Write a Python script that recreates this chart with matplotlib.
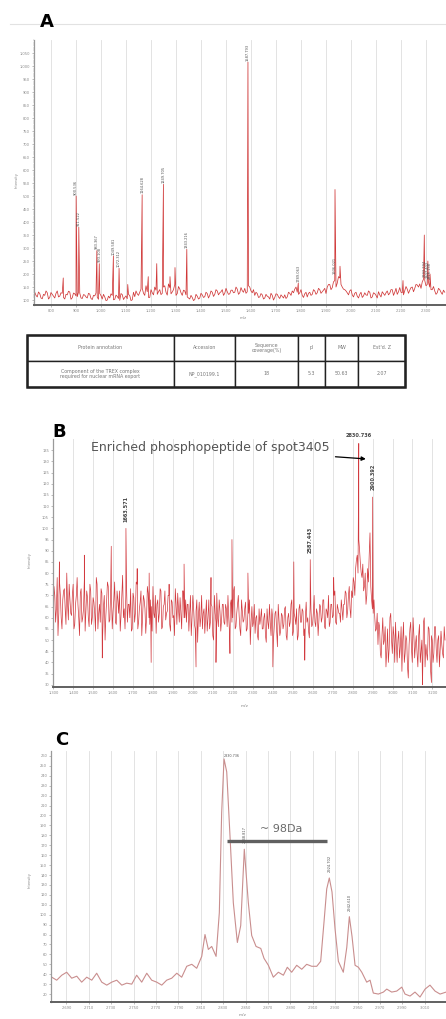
import numpy as np
import matplotlib
matplotlib.use("Agg")
import matplotlib.pyplot as plt
from matplotlib.ticker import FuncFormatter, MultipleLocator
from matplotlib.patches import Rectangle
from matplotlib.lines import Line2D

# ---------------- data ----------------

# panel A: full MS spectrum (baseline sampled every 10 m/z from 735,
# second set of samples in between, from 740)
A_base_start = 735
A_base_step = 10
A_base = [130, 112, 125, 105, 118, 128, 110, 122, 108, 135,
          115, 126, 104, 120, 131, 109, 124, 113, 127, 106,
          119, 108, 123, 102, 116, 111, 125, 104, 112, 100,
          108, 118, 103, 114, 99, 121, 110, 105, 117, 101,
          113, 124, 130, 145, 118, 132, 110, 128, 150, 122,
          140, 126, 155, 119, 148, 131, 160, 125, 143, 118,
          135, 112, 104, 110, 102, 115, 108, 120, 113, 125,
          118, 130, 122, 135, 128, 140, 126, 132, 124, 138,
          130, 142, 128, 136, 145, 132, 150, 128, 118, 125,
          112, 120, 108, 115, 104, 118, 110, 122, 106, 114,
          120, 112, 126, 135, 142, 130, 128, 118, 124, 112,
          130, 122, 135, 128, 140, 132, 145, 150, 160, 148,
          175, 165, 185, 150, 140, 128, 135, 120, 126, 115,
          122, 110, 128, 118, 130, 112, 125, 108, 120, 132,
          118, 135, 126, 140, 130, 122, 148, 128, 136, 142,
          138, 150, 145, 158, 162, 170, 175, 160, 150, 140,
          135, 128, 140, 122, 130]
A_mid_start = 740
A_mid = [118, 131, 108, 122, 135, 104, 129, 115, 126, 112,
         128, 110, 122, 134, 103, 127, 116, 130, 108, 121,
         112, 126, 106, 118, 127, 103, 117, 122, 98, 115,
         124, 101, 119, 106, 125, 102, 116, 122, 98, 130,
         135, 118, 142, 126, 155, 110, 140, 120, 138, 132,
         121, 150, 130, 162, 124, 140, 118, 152, 128, 138,
         120, 108, 118, 98, 122, 104, 126, 110, 130, 108,
         135, 114, 140, 120, 132, 118, 145, 122, 138, 128,
         150, 122, 148, 130, 126, 155, 135, 140, 130, 110,
         125, 104, 122, 112, 126, 100, 124, 112, 120, 108,
         106, 130, 118, 128, 150, 122, 140, 110, 130, 126,
         118, 140, 122, 145, 126, 138, 125, 160, 140, 170,
         150, 190, 160, 142, 135, 120, 140, 112, 130, 108,
         130, 116, 120, 135, 108, 128, 118, 132, 112, 125,
         128, 120, 140, 118, 145, 132, 130, 120, 152, 126,
         148, 132, 160, 150, 145, 180, 155, 168, 140, 152,
         122, 145, 130, 138]
A_peak_mz = [849.0, 900.5, 911.2, 983.4, 993.1, 1049.6, 1072.3, 1107.0, 1164.6,
             1189.0, 1223.0, 1249.7, 1276.0, 1296.0, 1343.2, 1587.8, 1789.1,
             1936.0, 1956.0, 2208.0, 2293.2, 2307.4, 2316.1]
A_peak_int = [185, 500, 380, 290, 240, 270, 222, 160, 505,
              190, 240, 545, 190, 225, 295, 1015, 165,
              525, 230, 175, 350, 250, 200]
A_label_mz = [900.5, 911.2, 983.4, 993.1, 1049.6, 1072.3, 1164.6, 1249.7,
              1343.2, 1587.8, 1789.1, 1936.0, 2293.2, 2307.4, 2316.1]
A_label_text = ["900.536", "911.522", "983.367", "993.108", "1049.581",
                "1072.312", "1164.628", "1249.705", "1343.216", "1587.793",
                "1789.063", "1936.021", "2293.194", "2307.402", "2316.138"]
A_label_int = [505, 385, 295, 245, 275, 227, 510, 550, 300, 1020, 168,
               200, 190, 185, 180]
A_xticks = list(range(800, 2400, 100))
A_yticks = list(range(100, 1100, 50))

# table under panel A
T_header = ["Protein annotation", "Accession", "Sequence\ncoverage(%)",
            "pI", "MW", "Est'd. Z"]
T_row = ["Component of the TREX complex\nrequired for nuclear mRNA export",
         "NP_010199.1", "18", "5.3", "50.63", "2.07"]
T_colw = [147, 61, 63, 27, 33, 47]

# panel B: enriched phosphopeptide spectrum (baseline every 8 m/z from 1295,
# second set of samples in between, from 1299)
B_base_start = 1295
B_base_step = 8
B_base = [66, 74, 58, 78, 62, 70, 55, 72, 64, 80, 59, 68,
          61, 75, 57, 70, 66, 52, 73, 60, 77, 63, 69, 56,
          72, 60, 67, 54, 75, 62, 58, 71, 65, 50, 68, 74,
          59, 70, 63, 76, 57, 68, 72, 61, 79, 64, 70, 58,
          66, 73, 55, 69, 62, 75, 58, 67, 52, 70, 64, 60,
          71, 57, 65, 74, 60, 53, 68, 62, 72, 56, 66, 59,
          63, 70, 54, 67, 61, 73, 57, 64, 69, 55, 72, 60,
          58, 66, 62, 52, 70, 57, 63, 49, 67, 60, 55, 64,
          61, 54, 68, 58, 65, 50, 62, 71, 56, 63, 59, 66,
          57, 64, 70, 53, 68, 60, 74, 56, 66, 61, 52, 63,
          59, 67, 55, 62, 48, 65, 58, 53, 61, 50, 57, 64,
          55, 62, 49, 58, 66, 52, 60, 56, 63, 47, 59, 54,
          61, 57, 65, 50, 62, 58, 68, 54, 60, 64, 52, 66,
          58, 63, 55, 67, 60, 51, 64, 57, 70, 56, 62, 59,
          65, 60, 68, 55, 63, 70, 58, 66, 61, 72, 57, 64,
          62, 68, 59, 66, 71, 63, 74, 60, 69, 76, 82, 88,
          95, 84, 78, 72, 80, 70, 76, 98, 68, 62, 60, 55,
          48, 56, 42, 60, 50, 38, 55, 46, 62, 44, 52, 58,
          40, 54, 47, 36, 58, 44, 50, 33, 55, 46, 60, 42,
          52, 38, 57, 45, 34, 60, 48, 41, 55, 36, 50, 44,
          56, 40, 52, 46, 48, 42, 50]
B_mid_start = 1299
B_mid = [58, 70, 64, 52, 76, 60, 68, 73, 57, 66, 75, 62,
         70, 55, 66, 78, 60, 71, 58, 64, 54, 72, 60, 75,
         57, 69, 62, 78, 55, 66, 73, 52, 70, 61, 76, 58,
         72, 55, 68, 58, 72, 62, 54, 70, 60, 55, 73, 66,
         60, 54, 71, 58, 76, 55, 64, 72, 60, 68, 53, 74,
         60, 68, 54, 62, 70, 66, 58, 73, 55, 65, 72, 62,
         70, 57, 68, 60, 52, 66, 71, 58, 62, 72, 60, 68,
         66, 54, 70, 60, 64, 55, 68, 61, 56, 70, 62, 53,
         68, 60, 55, 66, 52, 70, 58, 60, 68, 54, 66, 58,
         66, 56, 60, 66, 58, 72, 55, 62, 70, 55, 68, 58,
         64, 54, 62, 68, 58, 56, 66, 60, 52, 64, 60, 55,
         60, 52, 64, 55, 58, 64, 50, 62, 54, 66, 52, 62,
         55, 64, 52, 60, 56, 66, 52, 62, 57, 50, 64, 58,
         64, 52, 60, 58, 54, 66, 56, 62, 58, 64, 52, 66,
         58, 68, 56, 64, 60, 56, 66, 60, 70, 58, 66, 62,
         58, 64, 66, 72, 60, 70, 64, 72, 78, 70, 86, 80,
         90, 80, 84, 74, 66, 82, 88, 74, 64, 68, 54, 62,
         58, 44, 52, 48, 56, 45, 40, 60, 50, 56, 40, 48,
         50, 42, 56, 50, 40, 52, 38, 48, 58, 40, 52, 48,
         44, 52, 40, 50, 58, 38, 44, 56, 46, 52, 40, 56,
         46, 50, 38, 54, 44, 56]
B_spike_mz = [1330, 1455, 1545, 1590, 1663.571, 1720, 1780, 1790, 1880, 1955,
              2015, 2090, 2115, 2185, 2195, 2275, 2400, 2505, 2560, 2587.443,
              2705, 2830.736, 2900.392, 3150, 3195]
B_spike_int = [85, 88, 42, 92, 100, 82, 80, 40, 75, 84,
               38, 78, 40, 44, 95, 80, 38, 85, 41, 86,
               78, 138, 114, 30, 31]
B_label_mz = [1663.571, 2587.443, 2900.392]
B_label_int = [103, 89, 117]
B_xticks = list(range(1300, 3300, 100))
B_yticks = list(range(30, 140, 5))

# panel C: zoom around the phosphopeptide
C_mz = [2676.9, 2681.3, 2685.8, 2690.2, 2694.7, 2699.2, 2703.6, 2708.1, 2712.6,
        2717.0, 2721.5, 2726.0, 2730.4, 2734.9, 2739.4, 2743.8, 2748.3, 2752.7,
        2757.2, 2761.7, 2766.1, 2770.6, 2775.1, 2779.5, 2784.0, 2788.5, 2792.9,
        2797.4, 2801.9, 2806.3, 2810.8, 2813.7, 2816.7, 2819.7, 2823.6, 2826.5,
        2828.6, 2830.7, 2833.1, 2836.0, 2839.0, 2842.6, 2845.6, 2848.8, 2852.4,
        2855.4, 2859.3, 2863.5, 2866.4, 2870.3, 2874.7, 2879.2, 2883.7, 2887.2,
        2891.1, 2895.6, 2900.1, 2904.5, 2909.0, 2913.5, 2917.0, 2920.0, 2922.4,
        2924.7, 2927.1, 2929.8, 2932.8, 2937.2, 2940.3, 2942.6, 2945.0, 2947.7,
        2950.7, 2953.7, 2958.1, 2961.1, 2964.0, 2968.5, 2973.0, 2976.0, 2980.4,
        2984.9, 2989.4, 2992.3, 2996.8, 3001.2, 3005.7, 3010.2, 3014.6, 3019.1,
        3023.6, 3029.0]
C_int = [37, 34, 39, 42, 36, 38, 32, 37, 34,
         41, 32, 29, 32, 34, 29, 31, 30, 39,
         32, 41, 34, 32, 29, 34, 36, 41, 37,
         48, 50, 46, 58, 80, 65, 68, 58, 102,
         203, 257, 244, 180, 112, 72, 89, 166, 112,
         79, 68, 66, 56, 49, 37, 42, 39, 47,
         42, 49, 45, 50, 48, 48, 53, 93, 126,
         137, 123, 86, 53, 42, 67, 98, 78, 49,
         47, 42, 32, 34, 21, 20, 22, 25, 22,
         23, 27, 20, 18, 22, 17, 25, 29, 23,
         20, 22]
C_label_mz = [2848.8, 2924.7, 2942.6]
C_label_text = ["2848.817", "2924.702", "2942.610"]
C_label_int = [172, 143, 104]
C_xticks = list(range(2690, 3030, 20))
C_yticks = list(range(20, 270, 10))

W, H = 446, 1019


def fbox(left, top, right, bottom):
    return [left / W, 1 - bottom / H, (right - left) / W, (bottom - top) / H]


def merge(parts):
    # parts: list of (start, step, values) or (mz list, values)
    mz_all, val_all = [], []
    for p in parts:
        if len(p) == 3:
            start, step, vals = p
            mz_all.append(start + step * np.arange(len(vals)))
        else:
            mz_all.append(np.array(p[0], float))
            vals = p[1]
        val_all.append(np.array(vals, float))
    mz = np.concatenate(mz_all)
    val = np.concatenate(val_all)
    order = np.argsort(mz)
    return mz[order], val[order]


def style(ax, xticks, yticks):
    ax.set_xticks(xticks)
    ax.set_yticks(yticks)
    comma = FuncFormatter(lambda v, p: f"{v:,.0f}")
    ax.xaxis.set_major_formatter(comma)
    ax.yaxis.set_major_formatter(comma)
    ax.tick_params(labelsize=2.6, colors="#8a8a8a", length=1.6, width=0.4, pad=1.2)
    ax.grid(axis="x", color="#dedede", lw=0.6)
    ax.set_axisbelow(True)
    ax.spines["top"].set_visible(False)
    ax.spines["right"].set_visible(False)
    ax.spines["left"].set_color("#9a9a9a")
    ax.spines["left"].set_linewidth(0.9)
    ax.spines["bottom"].set_color("#606060")
    ax.spines["bottom"].set_linewidth(1.4)


fig = plt.figure(figsize=(W / 100, H / 100), dpi=100)
fig.add_artist(Line2D([10 / W, 1], [1 - 24 / H, 1 - 24 / H], color="#e2e2e2", lw=0.8))

# ---- panel A ----
axA = fig.add_axes(fbox(34, 40, 446, 305))
mzA, intA = merge([(A_base_start, A_base_step, A_base),
                   (A_mid_start, A_base_step, A_mid),
                   (A_peak_mz, A_peak_int)])
axA.plot(mzA, intA, color="#d03838", lw=0.55)
axA.set_xlim(732, 2380)
axA.set_ylim(81, 1100)
style(axA, A_xticks, A_yticks)
axA.yaxis.set_minor_locator(MultipleLocator(10))
axA.tick_params(which="minor", length=0.8, width=0.3, colors="#9a9a9a")
for m, t, v in zip(A_label_mz, A_label_text, A_label_int):
    axA.text(m, v, t, rotation=90, ha="center", va="bottom", fontsize=2.6, color="#555555")
fig.text(17 / W, 1 - 180 / H, "Intensity", rotation=90, fontsize=2.6, color="#888888",
         ha="center", va="center")
fig.text(243 / W, 1 - 318 / H, "m/z", fontsize=2.8, color="#888888", ha="center", va="center")
fig.text(40 / W, 1 - 22 / H, "A", fontsize=13, fontweight="bold", ha="left", va="center")

# ---- table ----
axT = fig.add_axes(fbox(27, 335, 405, 387))
axT.axis("off")
tbl = axT.table(cellText=[T_row], colLabels=T_header,
                colWidths=[w / sum(T_colw) for w in T_colw],
                cellLoc="center", bbox=[0, 0, 1, 1])
tbl.auto_set_font_size(False)
for cell in tbl.get_celld().values():
    cell.set_edgecolor("#222222")
    cell.set_linewidth(1.0)
    cell.get_text().set_fontsize(3.4)
    cell.get_text().set_color("#777777")
axT.add_patch(Rectangle((0, 0), 1, 1, transform=axT.transAxes, fill=False,
                        lw=1.8, edgecolor="#222222", clip_on=False))

# ---- panel B ----
axB = fig.add_axes(fbox(53, 439, 446, 687))
mzB, intB = merge([(B_base_start, B_base_step, B_base),
                   (B_mid_start, B_base_step, B_mid),
                   (B_spike_mz, B_spike_int)])
axB.plot(mzB, intB, color="#d23a3f", lw=0.5)
axB.set_xlim(1298, 3268)
axB.set_ylim(29, 140)
style(axB, B_xticks, B_yticks)
for m, v in zip(B_label_mz, B_label_int):
    axB.text(m, v, f"{m:.3f}", rotation=90, ha="center", va="bottom",
             fontsize=3.6, fontweight="bold", color="#444444")
axB.text(2830.736, 140.5, "2830.736", ha="center", va="bottom", fontsize=3.6,
         fontweight="bold", color="#444444", clip_on=False)
axB.annotate("Enriched phosphopeptide of spot3405", xy=(2880, 131), xytext=(2686, 136),
             ha="right", va="center", fontsize=9, color="#555555",
             arrowprops=dict(arrowstyle="-|>", color="black", lw=0.9,
                             mutation_scale=6))
fig.text(30 / W, 1 - 560 / H, "Intensity", rotation=90, fontsize=2.6, color="#888888",
         ha="center", va="center")
fig.text(245 / W, 1 - 706 / H, "m/z", fontsize=3.2, color="#888888", ha="center", va="center")
fig.text(52 / W, 1 - 432 / H, "B", fontsize=13, fontweight="bold", ha="left", va="center")

# ---- panel C ----
axC = fig.add_axes(fbox(51, 751, 446, 1002))
axC.plot(C_mz, C_int, color="#c98e8e", lw=0.8)
axC.set_xlim(2676.2, 3028.9)
axC.set_ylim(12, 265)
style(axC, C_xticks, C_yticks)
axC.text(2830.7, 258, "2830.736", ha="left", va="bottom", fontsize=2.4, color="#555555")
for m, t, v in zip(C_label_mz, C_label_text, C_label_int):
    axC.text(m, v, t, rotation=90, ha="center", va="bottom", fontsize=2.6, color="#555555")
axC.plot([2833, 2922.7], [174.5, 174.5], color="#606060", lw=2.4, solid_capstyle="butt")
axC.text(2881.6, 186, "~ 98Da", ha="center", va="center", fontsize=8, color="#6a6a6a")
fig.text(30 / W, 1 - 880 / H, "Intensity", rotation=90, fontsize=2.6, color="#888888",
         ha="center", va="center")
fig.text(243 / W, 1 - 1015 / H, "m/z", fontsize=3.2, color="#888888", ha="center", va="center")
fig.text(55 / W, 1 - 740 / H, "C", fontsize=13, fontweight="bold", ha="left", va="center")

fig.savefig("out.png", dpi=100)
